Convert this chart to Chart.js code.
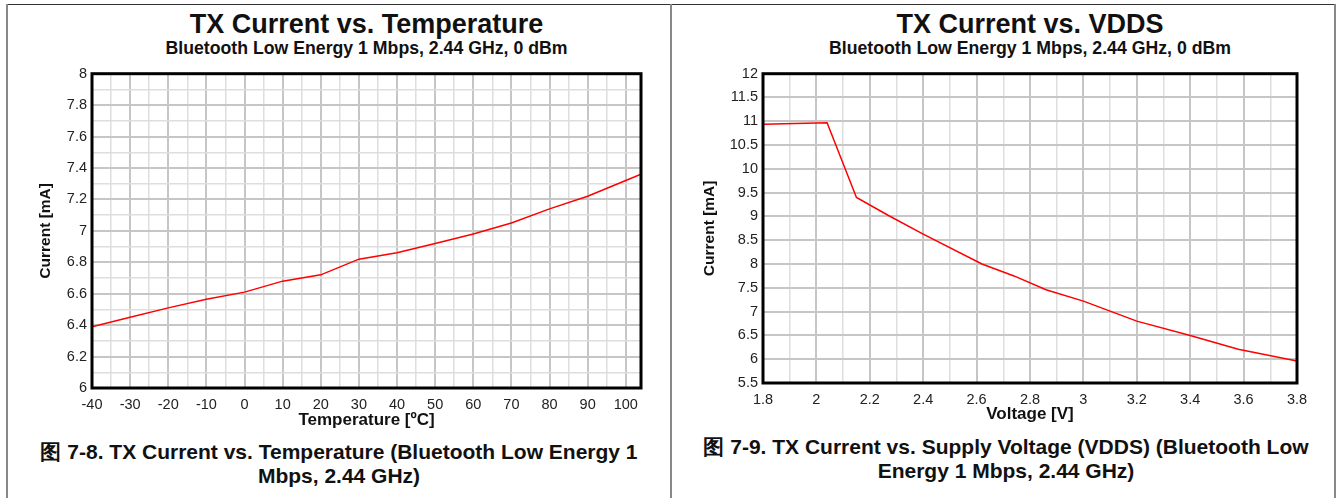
<!DOCTYPE html>
<html lang="en">
<head>
  <meta charset="UTF-8" />
  <title>TX Current charts</title>
  <script src="https://cdn.jsdelivr.net/npm/chart.js"></script>
  <style>
    body {
      margin: 0;
      width: 1338px;
      height: 498px;
      background: white;
      font-family: "Liberation Sans", Arial, sans-serif;
      color: #111;
      position: relative;
      overflow: hidden;
    }
    .panel {
      position: absolute;
      top: 4px;
      height: 500px;
      border-top: 1px solid #333;
    }
    .vline {
      position: absolute;
      top: 4px;
      width: 2px;
      height: 500px;
      background: #888;
    }
    .title {
      position: absolute;
      text-align: center;
      font-weight: bold;
      white-space: nowrap;
    }
    .title .main { font-size: 27px; line-height: 28px; }
    .title .sub { font-size: 17.7px; line-height: 20px; }
    .caption {
      position: absolute;
      text-align: center;
      font-weight: bold;
      font-size: 21px;
      line-height: 24px;
      white-space: nowrap;
    }
    canvas { position: absolute; }
  </style>
</head>
<body>
  <div class="panel" style="left:6px; width:1330px;"></div>
  <div class="vline" style="left:6px;"></div>
  <div class="vline" style="left:670px;"></div>
  <div class="vline" style="left:1334px;"></div>

  <div class="title" style="left:92px; width:549px; top:10px;">
    <div class="main">TX Current vs. Temperature</div>
    <div class="sub">Bluetooth Low Energy 1 Mbps, 2.44 GHz, 0 dBm</div>
  </div>
  <div class="title" style="left:763px; width:534px; top:10px;">
    <div class="main">TX Current vs. VDDS</div>
    <div class="sub">Bluetooth Low Energy 1 Mbps, 2.44 GHz, 0 dBm</div>
  </div>

  <canvas id="tempChart" style="left:0; top:60px;"></canvas>
  <canvas id="vddsChart" style="left:672px; top:60px;"></canvas>

  <div class="caption" style="left:19px; width:640px; top:440px;">图 7-8. TX Current vs. Temperature (Bluetooth Low Energy 1<br>Mbps, 2.44 GHz)</div>
  <div class="caption" style="left:681px; width:650px; top:435px;">图 7-9. TX Current vs. Supply Voltage (VDDS) (Bluetooth Low<br>Energy 1 Mbps, 2.44 GHz)</div>

  <script>
    // TX current vs temperature
    const tempC = [-40, -30, -20, -10, 0, 10, 20, 30, 40, 50, 60, 70, 80, 90, 100, 104];
    const tempCurrent = [6.39, 6.45, 6.51, 6.565, 6.61, 6.68, 6.72, 6.82, 6.86, 6.92, 6.98, 7.05, 7.14, 7.22, 7.32, 7.36];

    // TX current vs supply voltage
    const vdds = [1.8, 2.04, 2.15, 2.27, 2.4, 2.62, 2.74, 2.86, 3.0, 3.1, 3.2, 3.4, 3.58, 3.8];
    const vddsCurrent = [10.94, 10.97, 9.40, 9.02, 8.63, 8.0, 7.75, 7.46, 7.22, 7.01, 6.80, 6.5, 6.21, 5.96];

    const tickFont = { family: "Liberation Sans", size: 14.5 };
    const xTitleFont = { family: "Liberation Sans", size: 17, weight: "bold" };
    const yTitleFont = { family: "Liberation Sans", size: 15.5, weight: "bold" };
    const majorGrid = "#c6c6c6";
    const minorGrid = "#dedede";

    const frame = {
      id: "frame",
      afterDraw(chart) {
        const a = chart.chartArea;
        const ctx = chart.ctx;
        ctx.save();
        ctx.strokeStyle = "#000";
        ctx.lineWidth = 3;
        ctx.strokeRect(a.left, a.top, a.right - a.left, a.bottom - a.top);
        ctx.restore();
      }
    };

    function isMajor(v) {
      return Math.round(v * 10) % 2 === 0;
    }

    function makeChart(id, w, h, xs, ys, opts) {
      const el = document.getElementById(id);
      el.width = w;
      el.height = h;
      return new Chart(el, {
        type: "scatter",
        data: {
          datasets: [{
            data: xs.map((x, i) => ({ x: x, y: ys[i] })),
            showLine: true,
            borderColor: "#ff0000",
            borderWidth: 1.5,
            pointRadius: 0,
            tension: 0
          }]
        },
        options: {
          responsive: false,
          animation: false,
          layout: { padding: opts.padding },
          plugins: { legend: { display: false }, tooltip: { enabled: false } },
          scales: {
            x: {
              min: opts.xMin, max: opts.xMax,
              afterFit: s => { s.height = opts.xHeight; },
              border: { display: false },
              grid: {
                drawTicks: false,
                color: c => opts.xMajor(c.tick.value) ? majorGrid : minorGrid,
                lineWidth: c => opts.xMajor(c.tick.value) ? 2 : 1.5
              },
              ticks: {
                stepSize: opts.xStep, includeBounds: false, autoSkip: false, maxRotation: 0,
                padding: 8, color: "#222", font: tickFont,
                callback: v => opts.xMajor(v) ? String(Number(v.toFixed(1))) : ""
              },
              title: { display: true, text: opts.xTitle, color: "#111", font: xTitleFont, padding: { top: 0, bottom: 1 } }
            },
            y: {
              min: opts.yMin, max: opts.yMax,
              afterFit: s => { s.width = opts.yWidth; },
              border: { display: false },
              grid: {
                drawTicks: false,
                color: c => opts.yMajor(c.tick.value) ? majorGrid : minorGrid,
                lineWidth: c => opts.yMajor(c.tick.value) ? 2 : 1.5
              },
              ticks: {
                stepSize: opts.yStep, autoSkip: false, padding: 5, color: "#222", font: tickFont,
                callback: v => opts.yMajor(v) ? String(Number(v.toFixed(1))) : ""
              },
              title: { display: true, text: "Current [mA]", color: "#111", font: yTitleFont, padding: { top: 4, bottom: 4 } }
            }
          }
        },
        plugins: [frame]
      });
    }

    makeChart("tempChart", 669, 372, tempC, tempCurrent, {
      padding: { left: 32, right: 28, top: 13, bottom: 0 },
      xMin: -40, xMax: 104, xStep: 5, xHeight: 44,
      xMajor: v => Math.round(v) % 10 === 0,
      xTitle: "Temperature [ºC]",
      yMin: 6, yMax: 8, yStep: 0.1, yWidth: 60,
      yMajor: isMajor
    });

    makeChart("vddsChart", 662, 372, vdds, vddsCurrent, {
      padding: { left: 24, right: 37, top: 13, bottom: 6 },
      xMin: 1.8, xMax: 3.8, xStep: 0.1, xHeight: 43,
      xMajor: isMajor,
      xTitle: "Voltage [V]",
      yMin: 5.5, yMax: 12, yStep: 0.5, yWidth: 67,
      yMajor: v => true
    });
  </script>
</body>
</html>
